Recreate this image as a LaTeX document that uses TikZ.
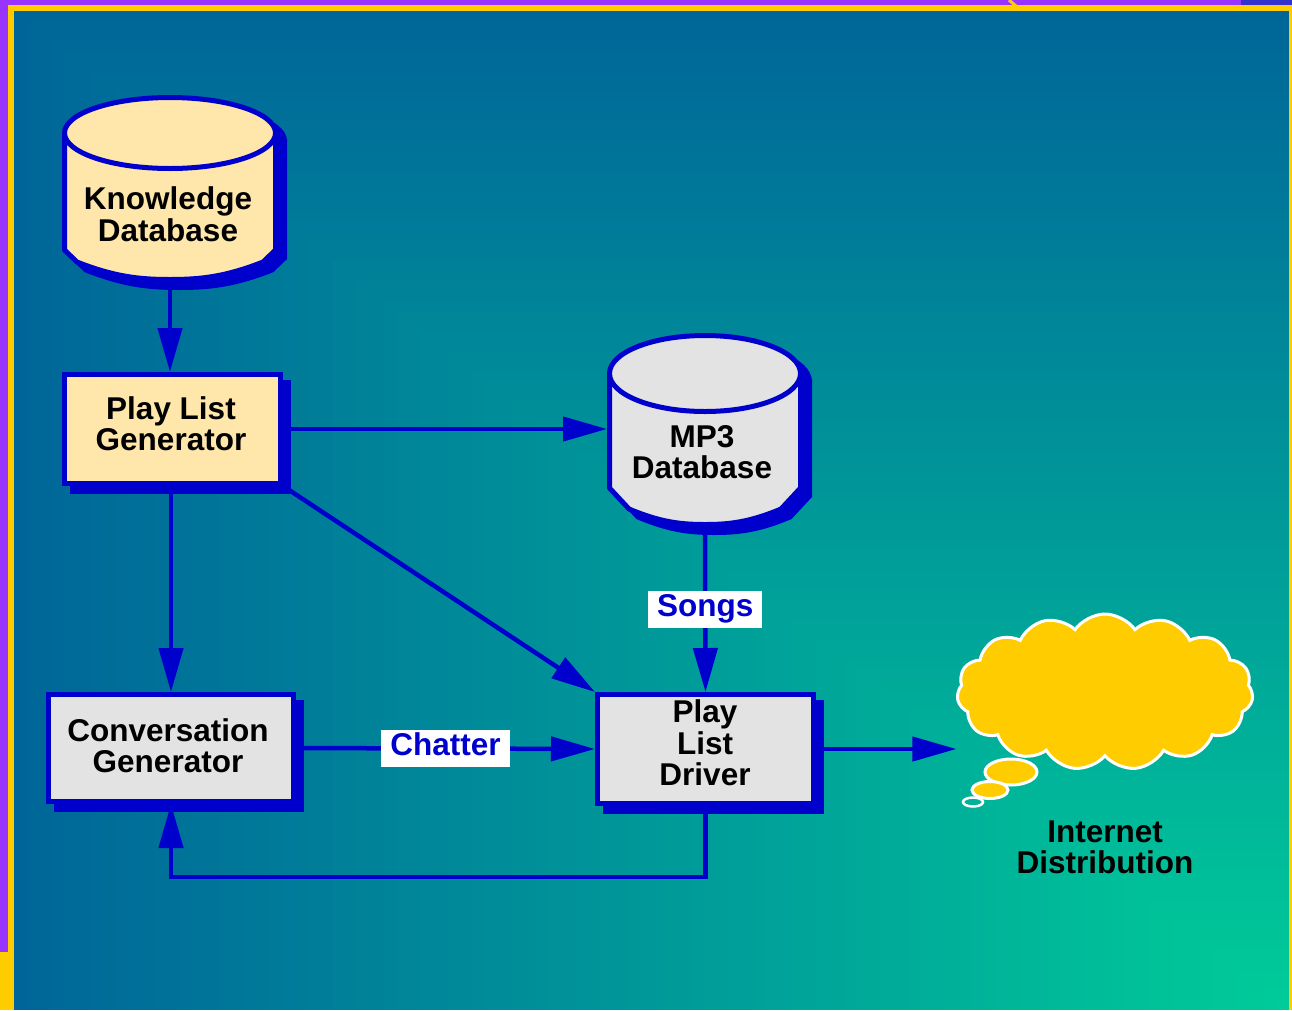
\documentclass[tikz,border=0pt]{standalone}
\usepackage{fontspec}
\setmainfont{Liberation Sans}
\usetikzlibrary{arrows.meta,shapes.symbols,calc}
\definecolor{boxblue}{HTML}{0000CC}
\definecolor{tanfill}{HTML}{FFE6AA}
\definecolor{greyfill}{HTML}{E3E3E3}
\definecolor{bgB}{HTML}{006699}
\definecolor{bgG}{HTML}{00CC99}
\definecolor{purp}{HTML}{9933FF}
\definecolor{purp2}{HTML}{3333CC}
\definecolor{yel}{HTML}{FFCC00}
\pgfdeclarelayer{lower}
\pgfsetlayers{lower,main}
\begin{document}
\begin{tikzpicture}[x=1pt,y=-1pt,
  box/.style={draw=boxblue, line width=5pt, inner sep=0pt},
  txt/.style={font=\fontsize{31.5}{31.5}\selectfont\bfseries, align=center, inner sep=0pt, text=black},
  lab/.style={fill=white, text=boxblue, font=\fontsize{31.5}{31.5}\selectfont\bfseries, inner xsep=9pt, inner ysep=0pt, text height=25pt, text depth=12pt},
  arr/.style={draw=boxblue, line width=4.5pt, line join=miter, -{Triangle[length=44pt,width=24pt]}},
  cyl/.style={draw=boxblue, line width=5pt, line join=round}]
\useasboundingbox (0,0) rectangle (1292,1010);
% background gradient
\begin{pgfonlayer}{lower}
\foreach \i in {0,...,99} {
  \pgfmathsetmacro\fx{14+\i*12.75}
  \pgfmathsetmacro\fy{11+\i*9.99}
  \fill[bgG!\i!bgB] (\fx,\fy) rectangle (1289,1010);
}
\end{pgfonlayer}
% frame strips
\fill[purp] (0,0) rectangle (1241,5);
\fill[purp2] (1241,0) rectangle (1292,5);
\fill[purp] (0,0) rectangle (8,952);
\fill[yel] (8,5) rectangle (1292,11);
\fill[yel] (8,5) rectangle (14,1010);
\fill[yel] (0,952) rectangle (14,1010);
\fill[yel] (1289,5) rectangle (1292,1010);
\draw[yel, line width=3pt] (1009,0) -- (1016,6);

% ---------- Knowledge Database cylinder ----------
\node[inner sep=0pt, outer sep=0pt, minimum width=216pt, minimum height=187pt] (kd) at (170,188.5) {};
\begin{scope}[shift={(9,8)}]
  \filldraw[boxblue, line width=5pt] (64.5,133) -- (64.5,250) -- (77,262) .. controls (115,277) and (140,279.5) .. (170,279.5) .. controls (200,279.5) and (225,277) .. (263,262) -- (275.5,250) -- (275.5,133) -- cycle;
  \filldraw[boxblue, line width=5pt] (170,133) ellipse (105.5pt and 35.5pt);
\end{scope}
\fill[tanfill] (64.5,133) -- (64.5,250) -- (77,262) .. controls (115,277) and (140,279.5) .. (170,279.5) .. controls (200,279.5) and (225,277) .. (263,262) -- (275.5,250) -- (275.5,133) -- cycle;
\draw[cyl] (64.5,133) -- (64.5,250) -- (77,262) .. controls (115,277) and (140,279.5) .. (170,279.5) .. controls (200,279.5) and (225,277) .. (263,262) -- (275.5,250) -- (275.5,133);
\filldraw[cyl, fill=tanfill] (170,133) ellipse (105.5pt and 35.5pt);
\node[txt] (kdt) at (168,214) {Knowledge\\Database};

% ---------- MP3 Database cylinder ----------
\node[inner sep=0pt, outer sep=0pt, minimum width=196pt, minimum height=194pt] (mp3) at (705,430) {};
\begin{scope}[shift={(9,8)}]
  \filldraw[boxblue, line width=5pt] (609.5,373.5) -- (609.5,488) -- (629,509) .. controls (660,522) and (680,524.5) .. (705,524.5) .. controls (730,524.5) and (750,522) .. (781,509) -- (800.5,488) -- (800.5,373.5) -- cycle;
  \filldraw[boxblue, line width=5pt] (705,373.5) ellipse (95.5pt and 38pt);
\end{scope}
\fill[greyfill] (609.5,373.5) -- (609.5,488) -- (629,509) .. controls (660,522) and (680,524.5) .. (705,524.5) .. controls (730,524.5) and (750,522) .. (781,509) -- (800.5,488) -- (800.5,373.5) -- cycle;
\draw[cyl] (609.5,373.5) -- (609.5,488) -- (629,509) .. controls (660,522) and (680,524.5) .. (705,524.5) .. controls (730,524.5) and (750,522) .. (781,509) -- (800.5,488) -- (800.5,373.5);
\filldraw[cyl, fill=greyfill] (705,373.5) ellipse (95.5pt and 38pt);
\node[txt] (mp3t) at (702,452) {MP3\\Database};

% ---------- boxes ----------
\node[box, fill=tanfill, minimum width=216pt, minimum height=109pt] (plg) at (172.5,429) {};
\node[box, fill=greyfill, minimum width=245pt, minimum height=107pt] (cg) at (171,748) {};
\node[box, fill=greyfill, minimum width=216pt, minimum height=109pt] (pld) at (705.5,749) {};
\node[txt] (plgt) at (171,423.5) {Play List\\Generator};
\node[txt] (cgt) at (168,745.5) {Conversation\\Generator};
\node[txt] (pldt) at (705,743) {Play\\List\\Driver};

\begin{pgfonlayer}{lower}
  \foreach \n in {plg,cg,pld} {
    \fill[boxblue] ($(\n.north west)+(8,8)$) rectangle ($(\n.south east)+(8,8)$);
  }
\end{pgfonlayer}

% ---------- cloud ----------
\node[cloud, cloud puffs=15, cloud puff arc=110, aspect=1.9, minimum width=296pt, minimum height=156pt, fill=yel, draw=white, line width=3pt] (cloud) at (1105,692) {};
\draw[white, line width=3pt, fill=yel] (1011,772) ellipse (26pt and 13pt);
\draw[white, line width=3pt, fill=yel] (990,790) ellipse (18pt and 8.5pt);
\draw[white, line width=2.5pt] (973,802) ellipse (10pt and 4.5pt);
\node[txt] (inet) at (1105,847.5) {Internet\\Distribution};

% ---------- connectors ----------
\draw[arr] (kd.south) -- (kd.south |- plg.north);
\draw[arr] (plg.east) -- (plg.east -| mp3.west);
\draw[arr] (cg.north |- plg.south) -- (cg.north);
\draw[arr] (plg.south east) -- (pld.north west);
\draw[arr] (mp3.south) -- node[lab] (songs) {Songs} (pld.north);
\draw[arr] (cg.east) -- node[lab] (chatter) {Chatter} (pld.west);
\draw[arr] (pld.east) -- (pld.east -| cloud.west);
\draw[arr] (pld.south) -- ++(0,71) -| (cg.south);
\end{tikzpicture}
\end{document}
